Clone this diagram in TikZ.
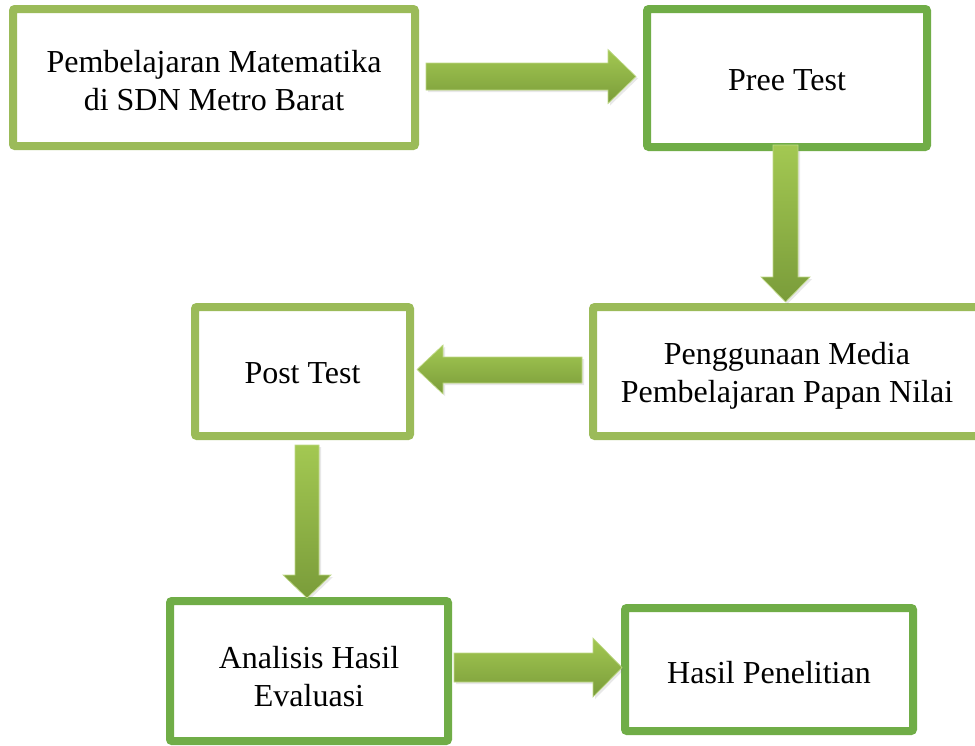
\documentclass[tikz,border=0pt]{standalone}
\usepackage{fontspec}
\setmainfont{Liberation Serif}
\usetikzlibrary{shadows}
\definecolor{lgreen}{HTML}{9BBB59}
\definecolor{dgreen}{HTML}{70AD47}
\definecolor{arrtop}{HTML}{A3C852}
\definecolor{arrbot}{HTML}{7A9C3A}
\begin{document}
\begin{tikzpicture}[x=0.75pt,y=-0.75pt,
  boxlight/.style={draw=lgreen, line width=6pt, rounded corners=1.5pt, inner sep=0pt},
  boxdark/.style={draw=dgreen, line width=6pt, rounded corners=1.5pt, inner sep=0pt},
  txt/.style={align=center, font=\fontsize{24}{28.5}\selectfont, inner sep=0pt},
  blockarr/.style={top color=arrtop, bottom color=arrbot, draw=arrtop!70!white, line width=0.5pt,
    drop shadow={opacity=0.18, shadow xshift=1.5pt, shadow yshift=-1.5pt}}]
\useasboundingbox (0,0) rectangle (975,746);
\fill[white] (0,0) rectangle (975,746);
% boxes
\node[boxlight, minimum width=301.5pt, minimum height=102.75pt] (b1) at (214,77.5) {};
\node[boxdark, minimum width=210pt, minimum height=103.5pt] (b2) at (787,78) {};
\node[boxlight, minimum width=291pt, minimum height=96.75pt] (b3) at (787,371.5) {};
\node[boxlight, minimum width=161.25pt, minimum height=96.75pt] (b4) at (302.5,371.5) {};
\node[boxdark, minimum width=208.5pt, minimum height=105pt] (b5) at (309,671) {};
\node[boxdark, minimum width=216pt, minimum height=92.25pt] (b6) at (769,669.5) {};
% texts
\node[txt] (t1) at ([yshift=-2.5pt]b1.center) {Pembelajaran Matematika\\di SDN Metro Barat};
\node[txt] (t2) at ([yshift=-1.5pt]b2.center) {Pree Test};
\node[txt] (t3) at ([yshift=-3pt]b3.center) {Penggunaan Media\\Pembelajaran Papan Nilai};
\node[txt] (t4) at ([yshift=-1.5pt]b4.center) {Post Test};
\node[txt] (t5) at ([yshift=-4pt]b5.center) {Analisis Hasil\\Evaluasi};
\node[txt] (t6) at ([yshift=-2.25pt]b6.center) {Hasil Penelitian};
% block arrows
\path[blockarr] (426,63) -- (608,63) -- (608,49.5) -- (636,76.5) -- (608,103.5) -- (608,90) -- (426,90) -- cycle;
\path[blockarr] (773,145) -- (798,145) -- (798,277) -- (810,277) -- (785.5,302) -- (761,277) -- (773,277) -- cycle;
\path[blockarr] (582,357) -- (443,357) -- (443,345) -- (417,369.5) -- (443,394) -- (443,383) -- (582,383) -- cycle;
\path[blockarr] (295,445) -- (319,445) -- (319,575) -- (331,575) -- (307,598) -- (283,575) -- (295,575) -- cycle;
\path[blockarr] (454,653) -- (593,653) -- (593,638) -- (622,667.5) -- (593,697) -- (593,682) -- (454,682) -- cycle;
\end{tikzpicture}
\end{document}
